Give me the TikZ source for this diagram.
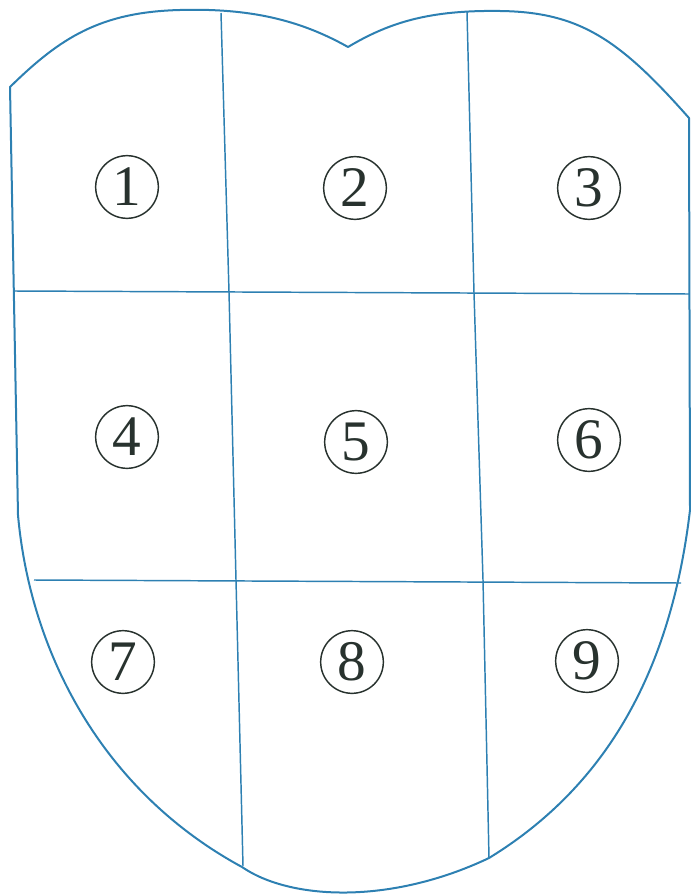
\documentclass[tikz,border=0pt]{standalone}
\usepackage{fontspec}
\setmainfont{Liberation Serif}
\definecolor{edgeblue}{RGB}{45,128,178}
\definecolor{inkc}{RGB}{40,50,46}
\tikzset{
  outline/.style={draw=edgeblue, line width=1.5pt, line join=round},
  divider/.style={draw=edgeblue, line width=1.1pt},
  numc/.style={circle, draw=inkc, line width=1.1pt, text=inkc, minimum size=47pt, inner sep=0pt, font=\fontsize{43}{43}\selectfont}
}
\begin{document}
\begin{tikzpicture}[x=0.75pt, y=-0.75pt]
\useasboundingbox (0,0) rectangle (691,895);
% outline of tongue
\draw[outline] (10,87) .. controls (60,38) and (100,12) .. (180,10)
  .. controls (250,8) and (300,20) .. (348,47)
  .. controls (390,22) and (430,10) .. (500,11)
  .. controls (580,12) and (620,40) .. (689,118)
  -- (690,510)
  .. controls (670,680) and (600,790) .. (489,858)
  .. controls (390,905) and (290,900) .. (242,867)
  .. controls (100,790) and (30,650) .. (18,515)
  -- cycle;
% vertical dividers
\draw[divider] (221,13) -- (229,292) -- (236,580) -- (243,866);
\draw[divider] (467,12) -- (474,293) -- (483,580) -- (489,858);
% horizontal dividers
\draw[divider] (14,291) -- (689,294);
\draw[divider] (34,580) -- (681,583);
% numbers
\node[numc] (n1) at (127,187) {1};
\node[numc] (n2) at (355,188) {2};
\node[numc] (n3) at (589,188) {3};
\node[numc] (n4) at (127,437) {4};
\node[numc] (n5) at (356,442) {5};
\node[numc] (n6) at (589,440) {6};
\node[numc] (n7) at (123,662) {7};
\node[numc] (n8) at (352,662) {8};
\node[numc] (n9) at (587,661) {9};
\end{tikzpicture}
\end{document}
